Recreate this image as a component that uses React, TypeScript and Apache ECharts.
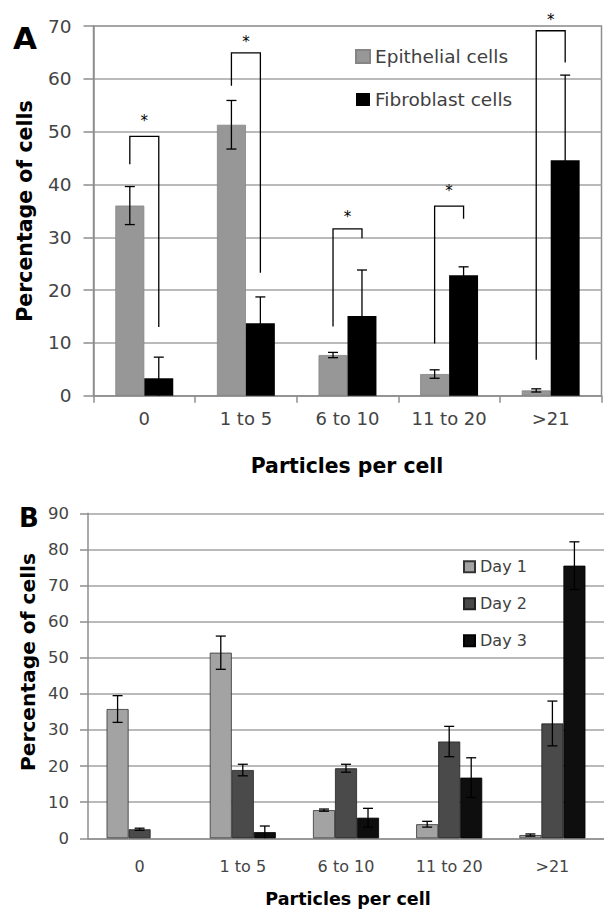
import React, { useEffect, useRef } from "react";
import * as echarts from "echarts";

// ---------- data ----------
const categories = ["0", "1 to 5", "6 to 10", "11 to 20", ">21"];

// Panel A
const epithelial = [36.0, 51.3, 7.7, 4.1, 1.0];
const epithelialErr = [3.6, 4.6, 0.5, 0.8, 0.3];
const fibroblast = [3.3, 13.7, 15.1, 22.8, 44.6];
const fibroblastErr = [4.0, 5.0, 8.7, 1.6, 16.1];
// significance brackets (data units)
const bracketLeftLow = [43.8, 58.7, 13.1, 9.9, 6.8];
const bracketTop = [49.1, 64.9, 31.6, 35.9, 69.1];
const bracketRightLow = [13.0, 23.3, 29.8, 33.5, 63.1];
const starLevel = [52.8, 67.7, 34.5, 39.6, 71.8];

// Panel B
const day1 = [35.8, 51.4, 7.8, 3.9, 0.9];
const day1Err = [3.7, 4.6, 0.3, 0.8, 0.3];
const day2 = [2.5, 18.9, 19.4, 26.8, 31.8];
const day2Err = [0.3, 1.6, 1.1, 4.2, 6.2];
const day3 = [0, 1.7, 5.7, 16.8, 75.5];
const day3Err = [0, 1.7, 2.6, 5.5, 6.6];

const FONT = "DejaVu Sans";

function barData(values: number[]) {
  return values.map((v) => (v === 0 ? { value: 0, itemStyle: { borderWidth: 0 } } : v));
}

function errorBarSeries(
  name: string,
  values: number[],
  errs: number[],
  axisIdx: number,
  seriesPos: number,
  nSeries: number,
  catGap: number
) {
  return {
    type: "custom",
    name: name + " err",
    xAxisIndex: axisIdx,
    yAxisIndex: axisIdx,
    z: 5,
    silent: true,
    encode: { x: 0, y: 1 },
    data: values.map((v, i) => [i, v, errs[i]]),
    renderItem: (params: any, api: any) => {
      const cat = api.value(0);
      const v = api.value(1);
      const e = api.value(2);
      if (!v && !e) return { type: "group", children: [] };
      const band = api.size([1, 0])[0];
      const bw = (band * (1 - catGap)) / nSeries;
      const cx = api.coord([cat, v])[0] + (seriesPos - (nSeries - 1) / 2) * bw;
      const yTop = api.coord([cat, v + e])[1];
      const low = Math.max(v - e, 0);
      const yBot = api.coord([cat, low])[1];
      const cap = 5;
      const st = { stroke: "#000", lineWidth: 1.3 };
      const children: any[] = [
        { type: "line", shape: { x1: cx, y1: yTop, x2: cx, y2: yBot }, style: st },
        { type: "line", shape: { x1: cx - cap, y1: yTop, x2: cx + cap, y2: yTop }, style: st },
      ];
      if (v - e > 0) {
        children.push({
          type: "line",
          shape: { x1: cx - cap, y1: yBot, x2: cx + cap, y2: yBot },
          style: st,
        });
      }
      return { type: "group", children };
    },
  };
}

export default function App() {
  const ref = useRef<HTMLDivElement>(null);

  useEffect(() => {
    if (!ref.current) return;
    const chart = echarts.init(ref.current, undefined, { renderer: "svg" });

    const gapA = 0.43;
    const gapB = 0.36;
    const gridLine = { color: "#a3a3a3", width: 1.5 };
    const axisLineStyle = { color: "#8e8e8e", width: 1.5 };

    const option: any = {
      animation: false,
      backgroundColor: "#ffffff",
      textStyle: { fontFamily: FONT },
      grid: [
        {
          left: 93.5,
          top: 26,
          width: 508,
          height: 369.7,
          show: true,
          borderColor: "#8e8e8e",
          borderWidth: 1.5,
          backgroundColor: "transparent",
        },
        { left: 88, top: 513.3, width: 525, height: 325 },
      ],
      legend: [
        {
          orient: "vertical",
          left: 355,
          top: 47,
          padding: 0,
          itemWidth: 14,
          itemHeight: 13,
          itemGap: 24,
          icon: "rect",
          data: ["Epithelial cells", "Fibroblast cells"],
          textStyle: { fontFamily: FONT, fontSize: 18.5, color: "#404040" },
        },
        {
          orient: "vertical",
          left: 463,
          top: 558.7,
          padding: 0,
          itemWidth: 11,
          itemHeight: 11,
          itemGap: 21,
          icon: "rect",
          data: ["Day 1", "Day 2", "Day 3"],
          textStyle: { fontFamily: FONT, fontSize: 16, color: "#404040" },
        },
      ],
      xAxis: [
        {
          type: "category",
          gridIndex: 0,
          data: categories,
          axisLine: { show: true, lineStyle: axisLineStyle },
          axisTick: { show: true, length: 7, lineStyle: axisLineStyle },
          axisLabel: { fontFamily: FONT, fontSize: 18, color: "#444", margin: 14 },
        },
        {
          type: "category",
          gridIndex: 1,
          data: categories,
          axisLine: { show: true, lineStyle: axisLineStyle },
          axisTick: { show: false },
          axisLabel: { fontFamily: FONT, fontSize: 16, color: "#444", margin: 20 },
        },
      ],
      yAxis: [
        {
          type: "value",
          gridIndex: 0,
          min: 0,
          max: 70,
          interval: 10,
          axisLine: { show: true, lineStyle: axisLineStyle },
          axisTick: { show: true, length: 10, lineStyle: axisLineStyle },
          splitLine: { show: true, lineStyle: gridLine },
          axisLabel: { fontFamily: FONT, fontSize: 18.5, color: "#444", margin: 22 },
        },
        {
          type: "value",
          gridIndex: 1,
          min: 0,
          max: 90,
          interval: 10,
          axisLine: { show: true, lineStyle: axisLineStyle },
          axisTick: { show: true, length: 8, lineStyle: axisLineStyle },
          splitLine: { show: true, lineStyle: gridLine },
          axisLabel: { fontFamily: FONT, fontSize: 16.5, color: "#444", margin: 19 },
        },
      ],
      series: [
        {
          type: "bar",
          name: "Epithelial cells",
          xAxisIndex: 0,
          yAxisIndex: 0,
          data: barData(epithelial),
          barGap: "0%",
          barCategoryGap: gapA * 100 + "%",
          itemStyle: { color: "#979797", borderColor: "#858585", borderWidth: 0.8 },
        },
        {
          type: "bar",
          name: "Fibroblast cells",
          xAxisIndex: 0,
          yAxisIndex: 0,
          data: barData(fibroblast),
          barGap: "0%",
          barCategoryGap: gapA * 100 + "%",
          itemStyle: { color: "#000000" },
        },
        {
          type: "bar",
          name: "Day 1",
          xAxisIndex: 1,
          yAxisIndex: 1,
          data: barData(day1),
          barGap: "0%",
          barCategoryGap: gapB * 100 + "%",
          itemStyle: { color: "#a3a3a3", borderColor: "#333", borderWidth: 0.8 },
        },
        {
          type: "bar",
          name: "Day 2",
          xAxisIndex: 1,
          yAxisIndex: 1,
          data: barData(day2),
          barGap: "0%",
          barCategoryGap: gapB * 100 + "%",
          itemStyle: { color: "#4a4a4a", borderColor: "#222", borderWidth: 0.8 },
        },
        {
          type: "bar",
          name: "Day 3",
          xAxisIndex: 1,
          yAxisIndex: 1,
          data: barData(day3),
          barGap: "0%",
          barCategoryGap: gapB * 100 + "%",
          itemStyle: { color: "#0e0e0e", borderColor: "#000", borderWidth: 0.8 },
        },
        errorBarSeries("Epithelial cells", epithelial, epithelialErr, 0, 0, 2, gapA),
        errorBarSeries("Fibroblast cells", fibroblast, fibroblastErr, 0, 1, 2, gapA),
        errorBarSeries("Day 1", day1, day1Err, 1, 0, 3, gapB),
        errorBarSeries("Day 2", day2, day2Err, 1, 1, 3, gapB),
        errorBarSeries("Day 3", day3, day3Err, 1, 2, 3, gapB),
        {
          type: "custom",
          name: "significance",
          xAxisIndex: 0,
          yAxisIndex: 0,
          z: 6,
          silent: true,
          clip: false,
          encode: { x: 0, y: 1 },
          data: categories.map((_, i) => [
            i,
            bracketLeftLow[i],
            bracketTop[i],
            bracketRightLow[i],
            starLevel[i],
          ]),
          renderItem: (params: any, api: any) => {
            const cat = api.value(0);
            const band = api.size([1, 0])[0];
            const bw = (band * (1 - gapA)) / 2;
            const cx = api.coord([cat, 0])[0];
            const xl = cx - bw / 2;
            const xr = cx + bw / 2;
            const yl = api.coord([cat, api.value(1)])[1];
            const yt = api.coord([cat, api.value(2)])[1];
            const yr = api.coord([cat, api.value(3)])[1];
            const ys = api.coord([cat, api.value(4)])[1];
            return {
              type: "group",
              children: [
                {
                  type: "polyline",
                  shape: {
                    points: [
                      [xl, yl],
                      [xl, yt],
                      [xr, yt],
                      [xr, yr],
                    ],
                  },
                  style: { stroke: "#000", lineWidth: 1.3, fill: null },
                },
                {
                  type: "text",
                  x: cx,
                  y: ys + 4,
                  style: {
                    text: "*",
                    fontFamily: "DejaVu Sans",
                    fontSize: 15,
                    fill: "#000",
                    align: "center",
                    verticalAlign: "middle",
                  },
                },
              ],
            };
          },
        },
      ],
      graphic: [
        {
          type: "text",
          x: 25,
          y: 38,
          style: {
            text: "A",
            fontFamily: FONT,
            fontWeight: "bold",
            fontSize: 31,
            fill: "#000",
            align: "center",
            verticalAlign: "middle",
          },
        },
        {
          type: "text",
          x: 29,
          y: 518,
          style: {
            text: "B",
            fontFamily: FONT,
            fontWeight: "bold",
            fontSize: 26,
            fill: "#000",
            align: "center",
            verticalAlign: "middle",
          },
        },
        {
          type: "text",
          x: 25,
          y: 211,
          rotation: Math.PI / 2,
          style: {
            text: "Percentage of cells",
            fontFamily: FONT,
            fontWeight: "bold",
            fontSize: 20.5,
            fill: "#000",
            align: "center",
            verticalAlign: "middle",
          },
        },
        {
          type: "text",
          x: 347,
          y: 466,
          style: {
            text: "Particles per cell",
            fontFamily: FONT,
            fontWeight: "bold",
            fontSize: 20.4,
            fill: "#000",
            align: "center",
            verticalAlign: "middle",
          },
        },
        {
          type: "text",
          x: 28,
          y: 662,
          rotation: Math.PI / 2,
          style: {
            text: "Percentage of cells",
            fontFamily: FONT,
            fontWeight: "bold",
            fontSize: 20.2,
            fill: "#000",
            align: "center",
            verticalAlign: "middle",
          },
        },
        {
          type: "text",
          x: 348,
          y: 899,
          style: {
            text: "Particles per cell",
            fontFamily: FONT,
            fontWeight: "bold",
            fontSize: 17.5,
            fill: "#000",
            align: "center",
            verticalAlign: "middle",
          },
        },
      ],
    };

    chart.setOption(option);
    return () => chart.dispose();
  }, []);

  return (
    <div
      ref={ref}
      style={{ position: "absolute", left: 0, top: 0, width: 604, height: 909, background: "#fff" }}
    />
  );
}
